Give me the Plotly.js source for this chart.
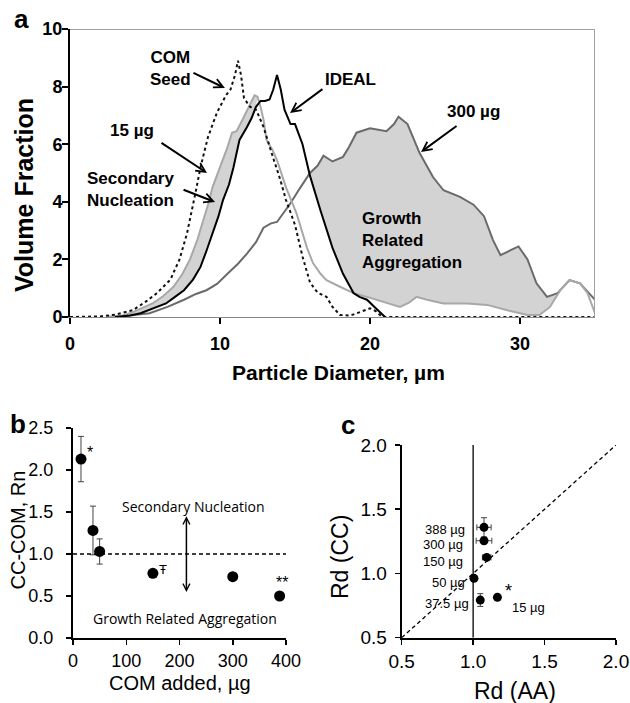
<!DOCTYPE html>
<html><head><meta charset="utf-8">
<script src="https://cdn.plot.ly/plotly-3.0.1.min.js"></script>
<style>html,body{margin:0;padding:0;background:#fff}#chart{width:630px;height:703px}</style>
</head><body><div id="chart"></div>
<script>
// ---------- Panel a: particle size distributions ----------
const seedX = [0, 2, 3, 4.2, 5.1, 5.8, 6.7, 7.3, 7.8, 8.1, 8.4, 8.7, 9.2, 9.8, 10.4, 10.7, 11.0, 11.2, 11.4, 11.6, 12.0, 12.4, 12.9, 13.5, 14.0, 14.4, 15.0, 15.5, 16.0, 16.5, 17.1, 17.5, 18.0, 18.7, 19.3, 20.0, 20.4, 20.8, 25, 30, 35];
const seedY = [0, 0.02, 0.08, 0.24, 0.55, 0.83, 1.3, 2.0, 2.9, 3.6, 4.4, 5.2, 6.25, 7.1, 7.7, 7.9, 8.4, 8.9, 8.4, 7.6, 7.3, 7.2, 6.6, 5.6, 4.8, 4.06, 3.2, 2.1, 1.2, 0.85, 0.7, 0.35, 0.07, 0.05, 0.17, 0.3, 0.2, 0, 0, 0, 0];

const idealX = [3, 4, 4.7, 5.5, 6.4, 7.0, 7.6, 8.2, 8.7, 9.1, 9.5, 9.9, 10.2, 10.6, 10.9, 11.3, 11.8, 12.1, 12.4, 12.7, 13.0, 13.3, 13.55, 13.8, 14.05, 14.3, 14.7, 15.0, 15.5, 16.0, 16.7, 17.5, 18.2, 18.9, 19.3, 19.8, 20.3, 20.7, 21.0];
const idealY = [0, 0.05, 0.13, 0.28, 0.47, 0.7, 0.93, 1.3, 1.74, 2.3, 2.9, 3.5, 4.06, 4.6, 5.2, 6.15, 6.6, 6.9, 7.3, 7.5, 7.5, 7.55, 7.9, 8.4, 7.9, 7.2, 6.7, 6.7, 6.0, 4.9, 3.7, 2.4, 1.5, 0.83, 0.7, 0.6, 0.35, 0.13, 0];

const ug15X = [2.5, 3.5, 4.2, 5.5, 6.2, 6.9, 7.5, 8.0, 8.5, 8.9, 9.2, 9.5, 10.0, 10.5, 10.8, 11.1, 11.5, 12.0, 12.3, 12.5, 12.7, 12.9, 13.1, 13.5, 13.8, 14.4, 15.1, 15.8, 16.2, 16.7, 17.1, 18.0, 18.9, 19.8, 20.9, 22.0, 22.6, 23.1, 23.8, 24.9, 26.5, 27.8, 29.1, 30.5, 31.3, 32.0, 32.7, 33.3, 34.0, 34.5, 35];
const ug15Y = [0, 0.05, 0.17, 0.47, 0.72, 1.05, 1.5, 2.0, 2.7, 3.37, 3.9, 4.5, 5.2, 5.9, 6.4, 6.45, 6.85, 7.4, 7.7, 7.65, 7.3, 6.85, 6.15, 5.8, 5.45, 4.5, 3.6, 2.4, 1.87, 1.5, 1.28, 1.05, 0.83, 0.7, 0.52, 0.35, 0.5, 0.7, 0.6, 0.47, 0.47, 0.42, 0.24, 0.07, 0.07, 0.35, 0.94, 1.28, 1.17, 0.83, 0.13];

const ug300X = [2.5, 4, 5.3, 6.5, 7.6, 8.4, 9.1, 9.8, 10.5, 11.2, 11.8, 12.4, 12.9, 13.4, 13.8, 14.2, 14.7, 15.3, 16.0, 16.5, 16.9, 17.5, 18.2, 18.6, 19.1, 20.0, 20.6, 21.1, 21.6, 21.9, 22.5, 23.3, 24.2, 24.9, 26.0, 26.9, 27.6, 28.2, 28.7, 29.3, 29.9, 30.5, 31.1, 31.8, 32.5, 33.3, 34.0, 34.7, 35];
const ug300Y = [0, 0.05, 0.13, 0.35, 0.6, 0.8, 0.93, 1.15, 1.5, 1.85, 2.2, 2.6, 3.1, 3.25, 3.3, 3.6, 3.95, 4.45, 5.0, 5.25, 5.6, 5.4, 5.56, 5.9, 6.4, 6.55, 6.5, 6.45, 6.7, 6.95, 6.7, 5.7, 4.86, 4.4, 4.17, 3.9, 3.5, 2.67, 2.15, 2.3, 2.45, 2.0, 1.17, 0.7, 0.83, 1.28, 1.17, 0.77, 0.6];

const aTicks = [0, 10, 20, 30];

// ---------- Panel b ----------
const comAdded = [15, 37.5, 50, 150, 300, 388];
const rn = [2.13, 1.28, 1.03, 0.77, 0.73, 0.50];
const rnErr = [0.27, 0.29, 0.15, 0.04, 0.02, 0.02];
const bTicksX = [0, 100, 200, 300, 400];

// ---------- Panel c ----------
const cLabels = ['15 µg', '37.5 µg', '50 µg', '150 µg', '300 µg', '388 µg'];
const rdAA = [1.17, 1.05, 1.006, 1.095, 1.076, 1.076];
const rdCC = [0.814, 0.793, 0.962, 1.125, 1.255, 1.359];
const rdAAErr = [0, 0.01, 0.01, 0.03, 0.055, 0.05];
const rdCCErr = [0, 0.05, 0.01, 0.01, 0.01, 0.075];

// ---------- helpers ----------
function seg(xs, ys, lo, hi) {
  const px = [], py = [];
  xs.forEach((x, i) => { if (x >= lo && x <= hi) { px.push(x); py.push(ys[i]); } });
  return {x: px, y: py};
}
// left shaded band: 15 µg above IDEAL
const up1 = seg(ug15X, ug15Y, 3.5, 12.6), lo1 = seg(idealX, idealY, 3.5, 12.6);
const fill1X = up1.x.concat(lo1.x.slice().reverse());
const fill1Y = up1.y.concat(lo1.y.slice().reverse());
// right shaded band: 300 µg above IDEAL / 15 µg
const up2 = seg(ug300X, ug300Y, 16.0, 32.6);
const lo2a = seg(ug15X, ug15Y, 18.9, 32.7), lo2b = seg(idealX, idealY, 16.0, 18.9);
const fill2X = up2.x.concat(lo2a.x.slice().reverse(), lo2b.x.slice().reverse());
const fill2Y = up2.y.concat(lo2a.y.slice().reverse(), lo2b.y.slice().reverse());

const FAM = 'Liberation Sans, Arial, sans-serif';
const fillCol = '#d3d3d3';

const traces = [
  {x: fill1X, y: fill1Y, fill: 'toself', fillcolor: fillCol, mode: 'none', xaxis: 'x', yaxis: 'y', hoverinfo: 'skip'},
  {x: fill2X, y: fill2Y, fill: 'toself', fillcolor: fillCol, mode: 'none', xaxis: 'x', yaxis: 'y', hoverinfo: 'skip'},
  {x: ug300X, y: ug300Y, mode: 'lines', line: {color: '#6a6a6a', width: 2}, xaxis: 'x', yaxis: 'y', name: '300 µg'},
  {x: ug15X, y: ug15Y, mode: 'lines', line: {color: '#a8a8a8', width: 2}, xaxis: 'x', yaxis: 'y', name: '15 µg'},
  {x: seedX, y: seedY, mode: 'lines', line: {color: '#111', width: 2, dash: '3px,3px'}, xaxis: 'x', yaxis: 'y', name: 'COM Seed'},
  {x: idealX, y: idealY, mode: 'lines', line: {color: '#000', width: 2}, xaxis: 'x', yaxis: 'y', name: 'IDEAL'},
  {x: comAdded, y: rn, mode: 'markers', marker: {color: '#000', size: 11},
   error_y: {type: 'data', array: rnErr, visible: true, color: '#444', thickness: 1, width: 3},
   xaxis: 'x2', yaxis: 'y2', cliponaxis: false},
  {x: rdAA, y: rdCC, mode: 'markers', marker: {color: '#000', size: 9}, text: cLabels,
   error_x: {type: 'data', array: rdAAErr, visible: true, color: '#444', thickness: 1, width: 3},
   error_y: {type: 'data', array: rdCCErr, visible: true, color: '#444', thickness: 1, width: 3},
   xaxis: 'x3', yaxis: 'y3', cliponaxis: false}
];

const boldA = {family: FAM, size: 17, color: '#000', weight: 'bold'};
function txt(x, y, t, extra) { return Object.assign({x: x, y: y, xref: 'x', yref: 'y', text: t, showarrow: false, font: boldA, xanchor: 'center', yanchor: 'middle'}, extra || {}); }
function arr(xt, yt, xh, yh, xr, yr) {
  return {x: xh, y: yh, ax: xt, ay: yt, xref: xr || 'x', yref: yr || 'y', axref: xr || 'x', ayref: yr || 'y',
          text: '', showarrow: true, arrowhead: 5, arrowsize: 0.9, arrowwidth: 2, arrowcolor: '#000', standoff: 0, startstandoff: 0};
}
function ptxt(px, py, t, font, extra) {
  return Object.assign({x: px/630, y: 1 - py/703, xref: 'paper', yref: 'paper', text: t, showarrow: false,
                        xanchor: 'center', yanchor: 'middle', font: font}, extra || {});
}
function dtxt(xr, yr, x, y, t, size, extra) {
  return Object.assign({x: x, y: y, xref: xr, yref: yr, text: t, showarrow: false, xanchor: 'center', yanchor: 'middle',
                        font: {family: FAM, size: size, color: '#000'}}, extra || {});
}

const annotations = [
  // panel a texts
  txt(6.67, 8.62, 'COM<br>Seed'),
  arr(8.13, 8.5, 10.33, 7.95),
  txt(4.13, 6.49, '15 µg'),
  arr(6.0, 6.08, 9.13, 5.0),
  txt(4.0, 4.41, 'Secondary<br>Nucleation', {align: 'left'}),
  arr(7.47, 4.44, 9.67, 3.99),
  txt(18.67, 8.23, 'IDEAL'),
  arr(16.93, 7.95, 14.67, 7.08),
  txt(26.87, 7.12, '300 µg'),
  arr(25.87, 6.67, 23.4, 5.73),
  txt(19.33, 2.64, 'Growth<br>Related<br>Aggregation', {xanchor: 'left', align: 'left'}),
  // panel a axis titles
  ptxt(24, 195, 'Volume Fraction', {family: FAM, size: 25, color: '#000', weight: 'bold'}, {textangle: -90}),
  ptxt(338, 372, 'Particle Diameter, µm', {family: FAM, size: 21, color: '#000', weight: 'bold'}),
  // panel labels
  ptxt(21, 19, 'a', {family: FAM, size: 26, color: '#000', weight: 'bold'}),
  ptxt(17.5, 424, 'b', {family: FAM, size: 26, color: '#000', weight: 'bold'}),
  ptxt(347.5, 425, 'c', {family: FAM, size: 26, color: '#000', weight: 'bold'}),
  // panel b
  ptxt(17.5, 530, 'CC-COM, Rn', {family: FAM, size: 20, color: '#000'}, {textangle: -90}),
  ptxt(180, 683, 'COM added, µg', {family: FAM, size: 20, color: '#000'}),
  {x: 226, y: 1.57, xref: 'x2', yref: 'y2', text: 'Secondary Nucleation', showarrow: false, xanchor: 'center', yanchor: 'middle',
   font: {family: 'Open Sans, sans-serif', size: 14, color: '#000'}},
  {x: 210, y: 0.234, xref: 'x2', yref: 'y2', text: 'Growth Related Aggregation', showarrow: false, xanchor: 'center', yanchor: 'middle',
   font: {family: 'Open Sans, sans-serif', size: 14, color: '#000'}},
  {x: 213, y: 1.45, ax: 213, ay: 0.53, xref: 'x2', yref: 'y2', axref: 'x2', ayref: 'y2', text: '', showarrow: true,
   arrowhead: 5, startarrowhead: 5, arrowside: 'end+start', arrowsize: 0.9, startarrowsize: 0.9, arrowwidth: 1.5, arrowcolor: '#000', standoff: 0, startstandoff: 0},
  dtxt('x2', 'y2', 32, 2.21, '*', 16),
  dtxt('x2', 'y2', 169, 0.81, 'Ŧ', 13),
  dtxt('x2', 'y2', 392, 0.66, '**', 16),
  // panel c
  ptxt(340, 557, 'Rd (CC)', {family: FAM, size: 23, color: '#000'}, {textangle: -90}),
  ptxt(515, 691, 'Rd (AA)', {family: FAM, size: 23, color: '#000'}),
  dtxt('x3', 'y3', 0.957, 1.346, cLabels[5], 13, {xanchor: 'right'}),
  dtxt('x3', 'y3', 0.943, 1.229, cLabels[4], 13, {xanchor: 'right'}),
  dtxt('x3', 'y3', 0.943, 1.097, cLabels[3], 13, {xanchor: 'right'}),
  dtxt('x3', 'y3', 0.957, 0.928, cLabels[2], 13, {xanchor: 'right'}),
  dtxt('x3', 'y3', 0.983, 0.768, cLabels[1], 13, {xanchor: 'right'}),
  dtxt('x3', 'y3', 1.257, 0.737, cLabels[0], 13, {xanchor: 'left'}),
  dtxt('x3', 'y3', 1.245, 0.86, '*', 18)
];

const shapes = [
  // panel a gray frame top/right
  {type: 'line', xref: 'x', yref: 'y', x0: 0, x1: 35, y0: 10, y1: 10, line: {color: '#a0a0a0', width: 2}},
  {type: 'line', xref: 'x', yref: 'y', x0: 35, x1: 35, y0: 0, y1: 10, line: {color: '#a0a0a0', width: 2}},
  // panel b reference line
  {type: 'line', xref: 'x2', yref: 'y2', x0: 0, x1: 400, y0: 1, y1: 1, line: {color: '#000', width: 1.3, dash: '4px,3px'}},
  // panel c lines
  {type: 'line', xref: 'x3', yref: 'y3', x0: 0.5, x1: 2.0, y0: 0.5, y1: 2.0, line: {color: '#000', width: 1.3, dash: '4px,3px'}},
  {type: 'line', xref: 'x3', yref: 'y3', x0: 1.0, x1: 1.0, y0: 0.5, y1: 2.0, line: {color: '#000', width: 1.3}}
];

const tickA = {family: FAM, size: 18, color: '#000', weight: 'bold'};
const tickB = {family: FAM, size: 18, color: '#000'};

const layout = {
  width: 630, height: 703, margin: {l: 0, r: 0, t: 0, b: 0},
  paper_bgcolor: '#fff', plot_bgcolor: 'rgba(0,0,0,0)', showlegend: false,
  xaxis: {domain: [70/630, 595/630], range: [0, 35], tickvals: aTicks, ticks: 'outside', ticklen: 6, tickwidth: 2, tickcolor: '#000',
          showline: true, linecolor: '#888', linewidth: 1, showgrid: false, zeroline: false, tickfont: tickA, anchor: 'y', ticklabelstandoff: 4},
  yaxis: {domain: [1 - 317/703, 1 - 29/703], range: [0, 10], dtick: 2, ticks: 'outside', ticklen: 6, tickwidth: 2, tickcolor: '#000',
          showline: true, linecolor: '#000', linewidth: 2, showgrid: false, zeroline: false, tickfont: tickA, anchor: 'x', ticklabelstandoff: -4},
  xaxis2: {domain: [73/630, 286/630], range: [0, 400], tickvals: bTicksX, ticks: 'outside', ticklen: 5, tickwidth: 1.5, tickcolor: '#000',
           showline: true, linecolor: '#000', linewidth: 2, showgrid: false, zeroline: false, tickfont: tickB, anchor: 'y2', ticklabelstandoff: 0},
  yaxis2: {domain: [1 - 638/703, 1 - 428/703], range: [0, 2.5], dtick: 0.5, tickformat: '.1f', ticks: 'outside', ticklen: 5, tickwidth: 1.5, tickcolor: '#000',
           showline: true, linecolor: '#000', linewidth: 2, showgrid: false, zeroline: false, tickfont: tickB, anchor: 'x2', ticklabelstandoff: 9},
  xaxis3: {domain: [401.7/630, 616/630], range: [0.5, 2.0], dtick: 0.5, tickformat: '.1f', ticks: 'outside', ticklen: 5, tickwidth: 1.5, tickcolor: '#000',
           showline: true, linecolor: '#000', linewidth: 2, showgrid: false, zeroline: false, tickfont: {family: FAM, size: 19, color: '#000'}, anchor: 'y3', ticklabelstandoff: 0},
  yaxis3: {domain: [1 - 637.7/703, 1 - 445/703], range: [0.5, 2.0], dtick: 0.5, tickformat: '.1f', ticks: 'outside', ticklen: 5, tickwidth: 1.5, tickcolor: '#000',
           showline: true, linecolor: '#000', linewidth: 2, showgrid: false, zeroline: false, tickfont: {family: FAM, size: 19, color: '#000'}, anchor: 'x3', ticklabelstandoff: 4},
  annotations: annotations,
  shapes: shapes
};

Plotly.newPlot('chart', traces, layout, {staticPlot: true, displayModeBar: false});
</script>
</body></html>
